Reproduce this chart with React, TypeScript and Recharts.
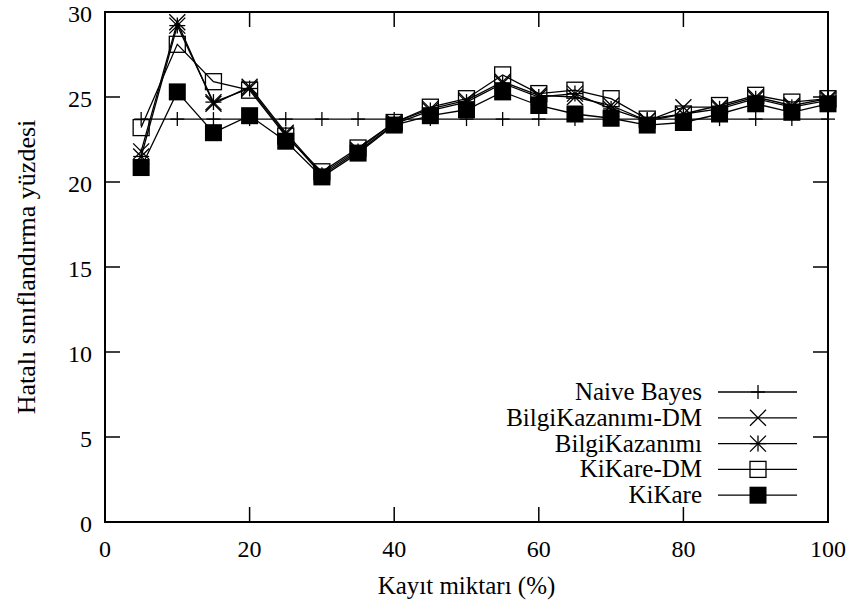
import React from "react";
import { LineChart, Line, XAxis, YAxis, ReferenceArea } from "recharts";

const kayit = [5, 10, 15, 20, 25, 30, 35, 40, 45, 50, 55, 60, 65, 70, 75, 80, 85, 90, 95, 100];
const naiveBayes = [23.7, 23.7, 23.7, 23.7, 23.7, 23.7, 23.7, 23.7, 23.7, 23.7, 23.7, 23.7, 23.7, 23.7, 23.7, 23.7, 23.7, 23.7, 23.7, 23.7];
const bilgiDM = [21.8, 29.4, 24.6, 25.6, 22.9, 20.5, 21.9, 23.5, 24.3, 24.8, 25.9, 25.1, 25.0, 24.5, 23.6, 24.4, 24.4, 25.0, 24.5, 24.9];
const bilgi = [21.5, 29.2, 24.7, 25.5, 22.8, 20.4, 21.8, 23.4, 24.2, 24.7, 25.8, 25.0, 25.2, 24.3, 23.6, 24.0, 24.3, 24.9, 24.4, 24.8];
const kikareDM = [23.2, 28.1, 25.9, 25.4, 22.7, 20.6, 22.0, 23.5, 24.4, 24.9, 26.3, 25.2, 25.4, 24.9, 23.7, 24.0, 24.5, 25.1, 24.7, 24.9];
const kikare = [20.85, 25.3, 22.9, 23.9, 22.4, 20.3, 21.7, 23.35, 23.9, 24.25, 25.3, 24.5, 24.0, 23.75, 23.35, 23.5, 24.0, 24.6, 24.1, 24.6];

const xTicks = [0, 20, 40, 60, 80, 100];
const yTicks = [0, 5, 10, 15, 20, 25, 30];

const series = [
  { key: "nb", name: "Naive Bayes", marker: "plus", values: naiveBayes },
  { key: "bkdm", name: "BilgiKazanımı-DM", marker: "cross", values: bilgiDM },
  { key: "bk", name: "BilgiKazanımı", marker: "star", values: bilgi },
  { key: "kdm", name: "KiKare-DM", marker: "square", values: kikareDM },
  { key: "k", name: "KiKare", marker: "filled", values: kikare },
];

const data = kayit.map((x, i) => {
  const row: Record<string, number> = { x };
  series.forEach((s) => (row[s.key] = s.values[i]));
  return row;
});

const W = 853;
const H = 608;
const LEFT = 105;
const TOP = 12;
const RIGHT = 25;
const BOTTOM = 86;
const PB = H - BOTTOM; // plot bottom
const PR = W - RIGHT; // plot right
const TICK = 15;
const FONT = '"Times New Roman", Times, "Liberation Serif", Tinos, "DejaVu Serif", "Noto Serif", serif';
const txt = { fontFamily: FONT, fontSize: 25 };
const tickTxt = { fontFamily: FONT, fontSize: 24 };

function Marker({ type, cx, cy }: { type: string; cx: number; cy: number }) {
  const s = 8;
  const st = { stroke: "#000", strokeWidth: 1.3 };
  if (type === "plus")
    return (
      <g>
        <line x1={cx} y1={cy - 7} x2={cx} y2={cy + 7} {...st} />
        <line x1={cx - 7} y1={cy} x2={cx + 7} y2={cy} {...st} />
      </g>
    );
  if (type === "cross")
    return (
      <g>
        <line x1={cx - s} y1={cy - s} x2={cx + s} y2={cy + s} {...st} />
        <line x1={cx - s} y1={cy + s} x2={cx + s} y2={cy - s} {...st} />
      </g>
    );
  if (type === "star")
    return (
      <g>
        <line x1={cx - s} y1={cy - s} x2={cx + s} y2={cy + s} {...st} />
        <line x1={cx - s} y1={cy + s} x2={cx + s} y2={cy - s} {...st} />
        <line x1={cx} y1={cy - s} x2={cx} y2={cy + s} {...st} />
        <line x1={cx - s} y1={cy} x2={cx + s} y2={cy} {...st} />
      </g>
    );
  if (type === "square")
    return <rect x={cx - s} y={cy - s} width={2 * s} height={2 * s} fill="none" {...st} />;
  return <rect x={cx - 8.5} y={cy - 8.5} width={17} height={17} fill="#000" />;
}

const XTick = (props: any) => {
  const { x, payload } = props;
  return (
    <g>
      <line x1={x} y1={PB} x2={x} y2={PB - TICK} stroke="#000" strokeWidth={1.5} />
      <line x1={x} y1={TOP} x2={x} y2={TOP + TICK} stroke="#000" strokeWidth={1.5} />
      <text x={x} y={PB + 35} textAnchor="middle" style={tickTxt} fill="#000">
        {payload.value}
      </text>
    </g>
  );
};

const YTick = (props: any) => {
  const { y, payload } = props;
  return (
    <g>
      <line x1={LEFT} y1={y} x2={LEFT + TICK} y2={y} stroke="#000" strokeWidth={1.5} />
      <line x1={PR} y1={y} x2={PR - TICK} y2={y} stroke="#000" strokeWidth={1.5} />
      <text x={92} y={y + 10} textAnchor="end" style={tickTxt} fill="#000">
        {payload.value}
      </text>
    </g>
  );
};

function LegendBox() {
  return (
    <svg width={W} height={H} style={{ position: "absolute", left: 0, top: 0, pointerEvents: "none" }}>
      {series.map((s, i) => {
        const y = 392 + i * 25.8;
        return (
          <g key={s.key}>
            <text x={702} y={y + 8} textAnchor="end" style={txt} fill="#000">
              {s.name}
            </text>
            <line x1={718} y1={y} x2={797} y2={y} stroke="#000" strokeWidth={1.3} />
            <Marker type={s.marker} cx={758} cy={y} />
          </g>
        );
      })}
    </svg>
  );
}

export default function App() {
  return (
    <div style={{ position: "absolute", left: 0, top: 0, width: W, height: H, background: "#fff", fontFamily: FONT }}>
      <LineChart width={W} height={H} data={data} margin={{ top: TOP, right: RIGHT, left: 0, bottom: 0 }} style={{ fontFamily: FONT }}>
        <XAxis
          dataKey="x"
          type="number"
          domain={[0, 100]}
          ticks={xTicks}
          tick={<XTick />}
          tickLine={false}
          axisLine={false}
          height={BOTTOM}
          interval={0}
          label={{
            value: "Kayıt miktarı (%)",
            position: "insideBottom",
            offset: 14,
            style: { ...txt, fill: "#000" },
          }}
        />
        <YAxis
          type="number"
          domain={[0, 30]}
          ticks={yTicks}
          tick={<YTick />}
          tickLine={false}
          axisLine={false}
          width={LEFT}
          interval={0}
          label={{
            value: "Hatalı sınıflandırma yüzdesi",
            angle: -90,
            position: "insideLeft",
            offset: 26,
            style: { textAnchor: "middle", fontFamily: FONT, fontSize: 26, fill: "#000" },
          }}
        />
        <ReferenceArea x1={0} x2={100} y1={0} y2={30} fill="none" stroke="#000" strokeWidth={2} ifOverflow="visible" />
        {series.map((s) => (
          <Line
            key={s.key}
            dataKey={s.key}
            name={s.name}
            stroke="#000"
            strokeWidth={1.3}
            type="linear"
            isAnimationActive={false}
            dot={(p: any) => <Marker key={`${s.key}-${p.index}`} type={s.marker} cx={p.cx} cy={p.cy} />}
            activeDot={false}
          />
        ))}
      </LineChart>
      <LegendBox />
    </div>
  );
}
